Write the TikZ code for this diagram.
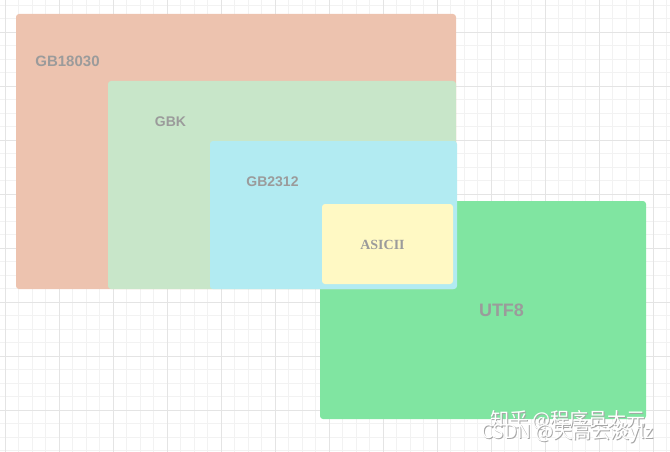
\documentclass[tikz,border=0pt]{standalone}
\usepackage{fontspec}
\setmainfont{Liberation Sans}
\newfontfamily\seriflabel{Liberation Serif}
\newfontfamily\cjkfont{Noto Sans CJK SC}
\usetikzlibrary{positioning}
\definecolor{encSalmon}{RGB}{237, 195, 175}
\definecolor{encMint}{RGB}{200, 230, 201}
\definecolor{encCyan}{RGB}{178, 235, 242}
\definecolor{encYellow}{RGB}{255, 249, 196}
\definecolor{encGreen}{RGB}{128, 229, 161}
\definecolor{encText}{RGB}{155, 155, 155}
\definecolor{gridMinor}{RGB}{242, 242, 242}
\definecolor{gridMajor}{RGB}{228, 228, 228}

\begin{document}
\begin{tikzpicture}[x=1pt, y=-1pt,
    region/.style={rounded corners=3pt},
    enclabel/.style={text=encText, font=\bfseries\fontsize{14}{16}\selectfont, inner sep=0pt},
    mark text/.style={font=\cjkfont\fontsize{19}{21}\selectfont, inner sep=0pt, anchor=west}]
  \useasboundingbox (0,0) rectangle (670,452);
  % grid paper
  \foreach \k in {0,...,49}
    \draw[gridMinor, line width=0.8pt] ({5.3+13.5*\k},0) -- ({5.3+13.5*\k},452);
  \foreach \k in {0,...,33}
    \draw[gridMinor, line width=0.8pt] (0,{5.3+13.5*\k}) -- (670,{5.3+13.5*\k});
  \foreach \k in {0,...,12}
    \draw[gridMajor, line width=0.9pt] ({5.3+54*\k},0) -- ({5.3+54*\k},452);
  \foreach \k in {0,...,7}
    \draw[gridMajor, line width=0.9pt] (0,{32.3+54*\k}) -- (670,{32.3+54*\k});
  % encodings
  \fill[region, encGreen] (320,201) rectangle (646,419);
  \fill[region, encSalmon] (16,14) rectangle (456,289);
  \fill[region, encMint] (108,81) rectangle (456,289);
  \fill[region, encCyan] (210,141) rectangle (457,289);
  \fill[region, encYellow] (322,204) rectangle (453,284);
  \node[enclabel, font=\bfseries\fontsize{15}{17}\selectfont] (gb18030) at (67.5,61.5) {GB18030};
  \node[enclabel] (gbk) at (170.5,122) {GBK};
  \node[enclabel] (gb2312) at (272.5,182) {GB2312};
  \node[enclabel, font=\seriflabel\bfseries\fontsize{14}{16}\selectfont] (ascii) at (382.5,244.5) {ASICII};
  \node[enclabel, font=\bfseries\fontsize{18}{20}\selectfont] (utf8) at (501.5,310) {UTF8};
  % watermark
  \node[mark text, text=gray!70] at (491,420.8) {知乎 @程序员大元};
  \node[mark text, text=white] (zhihu) at (490,420) {知乎 @程序员大元};
  \node[mark text, text=gray!70] at (482,433.8) {CSDN @天高云淡ylz};
  \node[mark text, text=white] (csdn) at (481,433) {CSDN @天高云淡ylz};
\end{tikzpicture}
\end{document}
